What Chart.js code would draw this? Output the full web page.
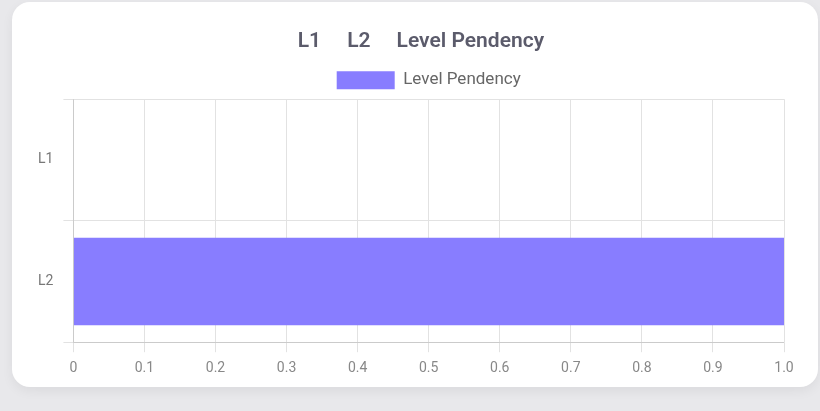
<!DOCTYPE html>
<html>
<head>
<meta charset="utf-8">
<script src="https://cdn.jsdelivr.net/npm/chart.js@4"></script>
<style>
  html, body { margin: 0; padding: 0; background: #e8e8eb; width: 820px; height: 411px; overflow: hidden; }
  .card {
    position: absolute; left: 12px; top: 2px; width: 806px; height: 385px;
    background: #fff; border-radius: 18px;
    box-shadow: 0 4px 12px rgba(0,0,0,0.06);
  }
  .wrap { position: absolute; left: 12px; top: 16px; width: 790px; height: 368px; }
</style>
</head>
<body>
<div class="card">
  <div class="wrap"><canvas id="levelChart"></canvas></div>
</div>
<script>
  // Data
  const levels = ['L1', 'L2'];
  const pendency = [0, 1];
  const xTickLabels = ['0', '0.1', '0.2', '0.3', '0.4', '0.5', '0.6', '0.7', '0.8', '0.9', '1.0'];

  const ctx = document.getElementById('levelChart').getContext('2d');
  new Chart(ctx, {
    type: 'bar',
    data: {
      labels: levels,
      datasets: [{
        label: 'Level Pendency',
        data: pendency,
        backgroundColor: '#887dff',
        borderColor: '#887dff',
        borderWidth: 0
      }]
    },
    options: {
      indexAxis: 'y',
      responsive: true,
      maintainAspectRatio: false,
      animation: false,
      layout: { padding: { left: 4, right: 30, bottom: 1 } },
      plugins: {
        title: {
          display: true,
          fullSize: false,
          text: 'L1     L2     Level Pendency   ',
          color: '#5b5b6b',
          font: { family: 'Roboto', size: 21, weight: '600' },
          padding: { top: 11, bottom: 7 }
        },
        legend: {
          fullSize: false,
          labels: {
            color: '#666',
            boxWidth: 58,
            boxHeight: 18,
            font: { family: 'Roboto', size: 17 }
          }
        },
        tooltip: { enabled: false }
      },
      scales: {
        x: {
          min: 0,
          max: 1,
          ticks: {
            stepSize: 0.1,
            color: '#888',
            padding: 8,
            font: { family: 'Roboto', size: 14 },
            callback: (v, i) => xTickLabels[i]
          },
          grid: { color: '#e2e2e2', tickLength: 10 }
        },
        y: {
          ticks: { color: '#777', padding: 10, font: { family: 'Roboto', size: 14 } },
          grid: { color: '#e2e2e2', tickLength: 10 }
        }
      }
    }
  });
</script>
</body>
</html>
